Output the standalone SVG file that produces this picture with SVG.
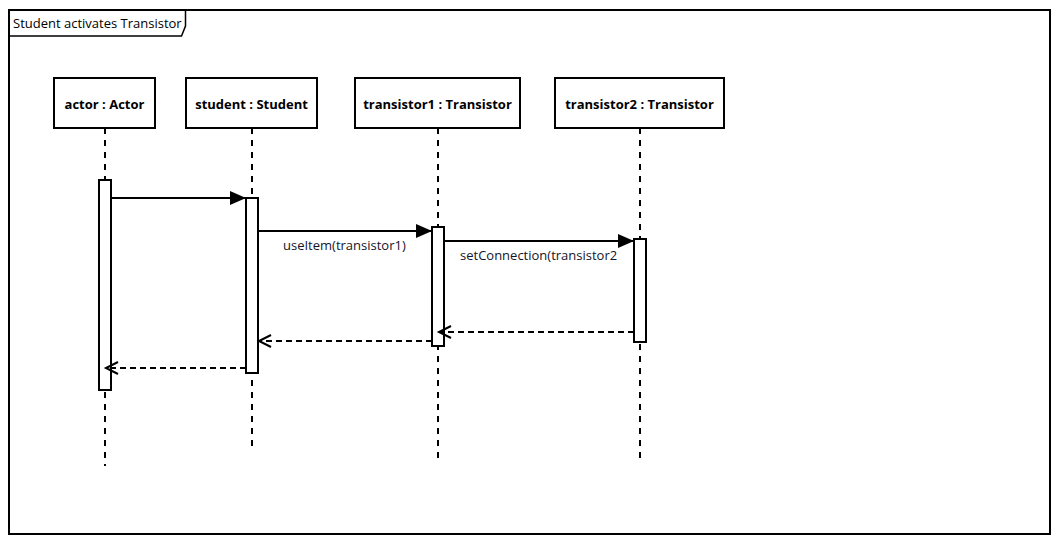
<svg xmlns="http://www.w3.org/2000/svg" width="1061" height="545" viewBox="0 0 1061 545">
  <style>
    .frame { fill: #ffffff; stroke: #000; stroke-width: 2; }
    .tab { fill: none; stroke: #000; stroke-width: 1.5; }
    .head { fill: #ffffff; stroke: #000; stroke-width: 2; }
    .headtxt { font-family: "Open Sans", "Noto Sans", sans-serif; font-size: 13px; font-weight: bold; fill: #000; text-anchor: middle; }
    .title { font-family: "Open Sans", "Noto Sans", sans-serif; font-size: 13px; fill: #000; }
    .life { stroke: #000; stroke-width: 2; stroke-dasharray: 6 6; fill: none; }
    .act { fill: #ffffff; stroke: #000; stroke-width: 2; }
    .call { stroke: #000; stroke-width: 2; fill: none; }
    .ret { stroke: #000; stroke-width: 2; fill: none; stroke-dasharray: 6 4; }
    .open { stroke: #000; stroke-width: 2; fill: none; }
    .msg { font-family: "Open Sans", "Noto Sans", sans-serif; font-size: 13px; fill: #141428; }
  </style>
  <defs>
    <marker id="filled" markerWidth="16" markerHeight="14" refX="16" refY="7" orient="auto" markerUnits="userSpaceOnUse">
      <path d="M0,0 L16,7 L0,14 Z" fill="#000"/>
    </marker>
  </defs>

  <!-- interaction frame -->
  <g id="frame">
    <rect class="frame" x="9" y="10" width="1041" height="524"/>
    <path class="tab" d="M9,36 L181.5,36 L185.5,26 L185.5,10"/>
    <text class="title" x="13" y="28">Student activates Transistor</text>
  </g>

  <!-- lifelines -->
  <g id="actor">
    <line class="life" x1="105" y1="128" x2="105" y2="466"/>
    <rect class="head" x="54" y="78" width="101" height="50"/>
    <text class="headtxt" x="104.5" y="109">actor : Actor</text>
    <rect class="act" x="99" y="180" width="12" height="210"/>
  </g>
  <g id="student">
    <line class="life" x1="252" y1="128" x2="252" y2="446"/>
    <rect class="head" x="186" y="78" width="131" height="50"/>
    <text class="headtxt" x="251.5" y="109">student : Student</text>
    <rect class="act" x="246" y="198" width="12" height="175"/>
  </g>
  <g id="transistor1">
    <line class="life" x1="438" y1="128" x2="438" y2="458"/>
    <rect class="head" x="355" y="78" width="165" height="50"/>
    <text class="headtxt" x="437.5" y="109">transistor1 : Transistor</text>
    <rect class="act" x="432" y="227" width="12" height="119"/>
  </g>
  <g id="transistor2">
    <line class="life" x1="640" y1="128" x2="640" y2="458"/>
    <rect class="head" x="555" y="78" width="169" height="50"/>
    <text class="headtxt" x="639.5" y="109">transistor2 : Transistor</text>
    <rect class="act" x="634" y="239" width="12" height="103"/>
  </g>

  <!-- messages -->
  <g id="connectors">
    <line class="call" x1="111" y1="198" x2="246" y2="198" marker-end="url(#filled)"/>
    <line class="call" x1="258" y1="231" x2="432" y2="231" marker-end="url(#filled)"/>
    <text class="msg" x="283" y="250">useItem(transistor1)</text>
    <line class="call" x1="444" y1="241" x2="634" y2="241" marker-end="url(#filled)"/>
    <text class="msg" x="460" y="260">setConnection(transistor2</text>

    <line class="ret" x1="634" y1="332" x2="440" y2="332"/>
    <path class="open" d="M451,326 L439,332 L451,338"/>
    <line class="ret" x1="432" y1="341" x2="260" y2="341"/>
    <path class="open" d="M271,335 L259,341 L271,347"/>
    <line class="ret" x1="246" y1="368" x2="107" y2="368"/>
    <path class="open" d="M118,362 L106,368 L118,374"/>
  </g>
</svg>
